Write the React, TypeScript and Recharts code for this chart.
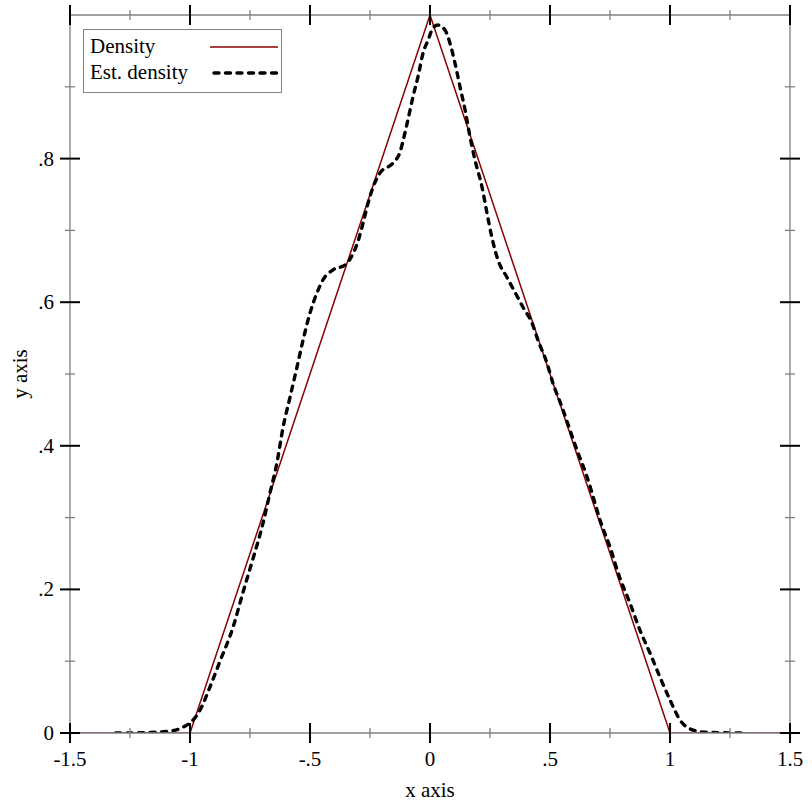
import React from "react";
import { LineChart, Line, XAxis, YAxis, Legend } from "recharts";

const DENSITY_X = [-1.5, -1, 0, 1, 1.5];
const DENSITY_Y = [0, 0, 1, 0, 0];

const EST_X = [
  -1.31, -1.2, -1.1, -1.05, -1.03, -1.0, -0.958, -0.917, -0.875, -0.82, -0.78, -0.74, -0.696, -0.667,
  -0.638, -0.612, -0.583, -0.554, -0.529, -0.5, -0.471, -0.446, -0.404, -0.354, -0.32, -0.3, -0.279,
  -0.258, -0.2375, -0.208, -0.154, -0.125, -0.11, -0.092, -0.071, -0.05, -0.029, -0.008, 0.0125, 0.033,
  0.0625, 0.083, 0.104, 0.125, 0.146, 0.167, 0.1875, 0.217, 0.2375, 0.258, 0.283, 0.32, 0.354, 0.3875,
  0.425, 0.45, 0.4875, 0.5125, 0.55, 0.583, 0.617, 0.654, 0.6875, 0.708, 0.75, 0.79, 0.833, 0.875, 0.917,
  0.958, 1.0, 1.042, 1.096, 1.15, 1.3,
];
const EST_Y = [
  0, 0.0005, 0.002, 0.005, 0.008, 0.014, 0.032, 0.064, 0.1, 0.148, 0.195, 0.24, 0.292, 0.334,
  0.376, 0.426, 0.468, 0.51, 0.547, 0.585, 0.613, 0.631, 0.645, 0.652, 0.668, 0.685, 0.71,
  0.738, 0.76, 0.78, 0.794, 0.809, 0.828, 0.854, 0.886, 0.914, 0.947, 0.965, 0.982, 0.986,
  0.979, 0.961, 0.933, 0.9, 0.868, 0.83, 0.798, 0.76, 0.724, 0.69, 0.659, 0.635, 0.614, 0.593,
  0.571, 0.547, 0.515, 0.487, 0.454, 0.422, 0.39, 0.357, 0.32, 0.297, 0.259, 0.217, 0.181, 0.143, 0.111,
  0.078, 0.046, 0.018, 0.004, 0.001, 0,
];

const X_MAJOR = [-1.5, -1, -0.5, 0, 0.5, 1, 1.5];
const X_MINOR = [-1.25, -0.75, -0.25, 0.25, 0.75, 1.25];
const Y_MAJOR = [0, 0.2, 0.4, 0.6, 0.8];
const Y_MINOR = [0.1, 0.3, 0.5, 0.7, 0.9];

const density = DENSITY_X.map((x, i) => ({ x, y: DENSITY_Y[i] }));
const estimate = EST_X.map((x, i) => ({ x, y: EST_Y[i] }));

const FONT = "'Liberation Serif', 'Times New Roman', serif";
const AXIS_GRAY = "#808080";
const RED = "#8b0000";

const fmt = (v: number) => (v === 0 ? "0" : String(v).replace("0.", "."));

function makeTick(side: "bottom" | "top" | "left" | "right", majors: number[]) {
  return (props: any) => {
    const { x, y, payload } = props;
    const v = payload.value;
    const major = majors.includes(v);
    const len = major ? 10 : 5;
    const stroke = major ? "#000" : AXIS_GRAY;
    const sw = major ? 2 : 1.3;
    const horiz = side === "bottom" || side === "top";
    return (
      <g>
        {horiz ? (
          <line x1={x} x2={x} y1={y - len} y2={y + len} stroke={stroke} strokeWidth={sw} />
        ) : (
          <line x1={x - len} x2={x + len} y1={y} y2={y} stroke={stroke} strokeWidth={sw} />
        )}
        {major && side === "bottom" && (
          <text x={x} y={y + 33} textAnchor="middle" fontFamily={FONT} fontSize={21} fill="#000">
            {fmt(v)}
          </text>
        )}
        {major && side === "left" && (
          <text x={x - 16} y={y + 7} textAnchor="end" fontFamily={FONT} fontSize={21} fill="#000">
            {fmt(v)}
          </text>
        )}
      </g>
    );
  };
}

const LEGEND_STYLE: Record<string, { dash?: string; width: number }> = {
  Density: { width: 1.5 },
  "Est. density": { dash: "5 6.5", width: 3.4 },
};

function LegendBox(props: any) {
  const items = props.payload || [];
  return (
    <div
      style={{
        border: `1px solid ${AXIS_GRAY}`,
        background: "#fff",
        width: 197,
        height: 62,
        boxSizing: "content-box",
        fontFamily: FONT,
        fontSize: 21,
        position: "relative",
      }}
    >
      {items.map((it: any, i: number) => {
        const st = LEGEND_STYLE[it.value] || { width: 2 };
        return (
          <div key={it.value} style={{ position: "absolute", left: 6, top: 3 + i * 26, height: 26, width: 190 }}>
            <span style={{ lineHeight: "26px" }}>{it.value}</span>
            <svg width={72} height={26} style={{ position: "absolute", left: 120, top: 0 }}>
              <line
                x1={st.dash ? 4 : 0}
                x2={68}
                y1={14}
                y2={14}
                stroke={it.color}
                strokeWidth={st.width}
                strokeDasharray={st.dash}
                strokeLinecap={st.dash ? "round" : "butt"}
              />
            </svg>
          </div>
        );
      })}
    </div>
  );
}

export default function App() {
  return (
    <div style={{ width: 812, height: 812, position: "relative", background: "#fff" }}>
      <style>{"body{margin:0}"}</style>
      <LineChart width={812} height={812} margin={{ top: 0, right: 0, bottom: 0, left: 0 }}>
        <XAxis
          dataKey="x"
          type="number"
          domain={[-1.5, 1.5]}
          ticks={[...X_MAJOR, ...X_MINOR]}
          interval={0}
          allowDataOverflow
          height={79}
          tickSize={0}
          tickMargin={0}
          tickLine={false}
          axisLine={{ stroke: AXIS_GRAY, strokeWidth: 1.3 }}
          tick={makeTick("bottom", X_MAJOR)}
        />
        <XAxis
          xAxisId="top"
          orientation="top"
          dataKey="x"
          type="number"
          domain={[-1.5, 1.5]}
          ticks={[...X_MAJOR, ...X_MINOR]}
          interval={0}
          allowDataOverflow
          height={15}
          tickSize={0}
          tickMargin={0}
          tickLine={false}
          axisLine={{ stroke: AXIS_GRAY, strokeWidth: 1.3 }}
          tick={makeTick("top", X_MAJOR)}
        />
        <YAxis
          type="number"
          domain={[0, 1]}
          ticks={[...Y_MAJOR, ...Y_MINOR]}
          interval={0}
          allowDataOverflow
          width={70}
          tickSize={0}
          tickMargin={0}
          tickLine={false}
          axisLine={{ stroke: AXIS_GRAY, strokeWidth: 1.3 }}
          tick={makeTick("left", Y_MAJOR)}
        />
        <YAxis
          yAxisId="right"
          orientation="right"
          type="number"
          domain={[0, 1]}
          ticks={[...Y_MAJOR, ...Y_MINOR]}
          interval={0}
          allowDataOverflow
          width={22}
          tickSize={0}
          tickMargin={0}
          tickLine={false}
          axisLine={{ stroke: AXIS_GRAY, strokeWidth: 1.3 }}
          tick={makeTick("right", Y_MAJOR)}
        />
        <Line
          data={density}
          dataKey="y"
          name="Density"
          type="linear"
          stroke={RED}
          strokeWidth={1.5}
          dot={false}
          activeDot={false}
          isAnimationActive={false}
        />
        <Line
          data={estimate}
          dataKey="y"
          name="Est. density"
          type="monotone"
          stroke="#000"
          strokeWidth={3.4}
          strokeDasharray="5 6.5"
          strokeLinecap="round"
          dot={false}
          activeDot={false}
          isAnimationActive={false}
        />
        <Legend
          layout="vertical"
          align="center"
          verticalAlign="middle"
          content={<LegendBox />}
          wrapperStyle={{ position: "absolute", left: 83, top: 29, width: "auto", height: "auto" }}
        />
        <text x={430} y={797} textAnchor="middle" fontFamily={FONT} fontSize={21} fill="#000">
          x axis
        </text>
        <text
          x={27}
          y={374}
          transform="rotate(-90 27 374)"
          textAnchor="middle"
          fontFamily={FONT}
          fontSize={21}
          fill="#000"
        >
          y axis
        </text>
      </LineChart>
    </div>
  );
}
